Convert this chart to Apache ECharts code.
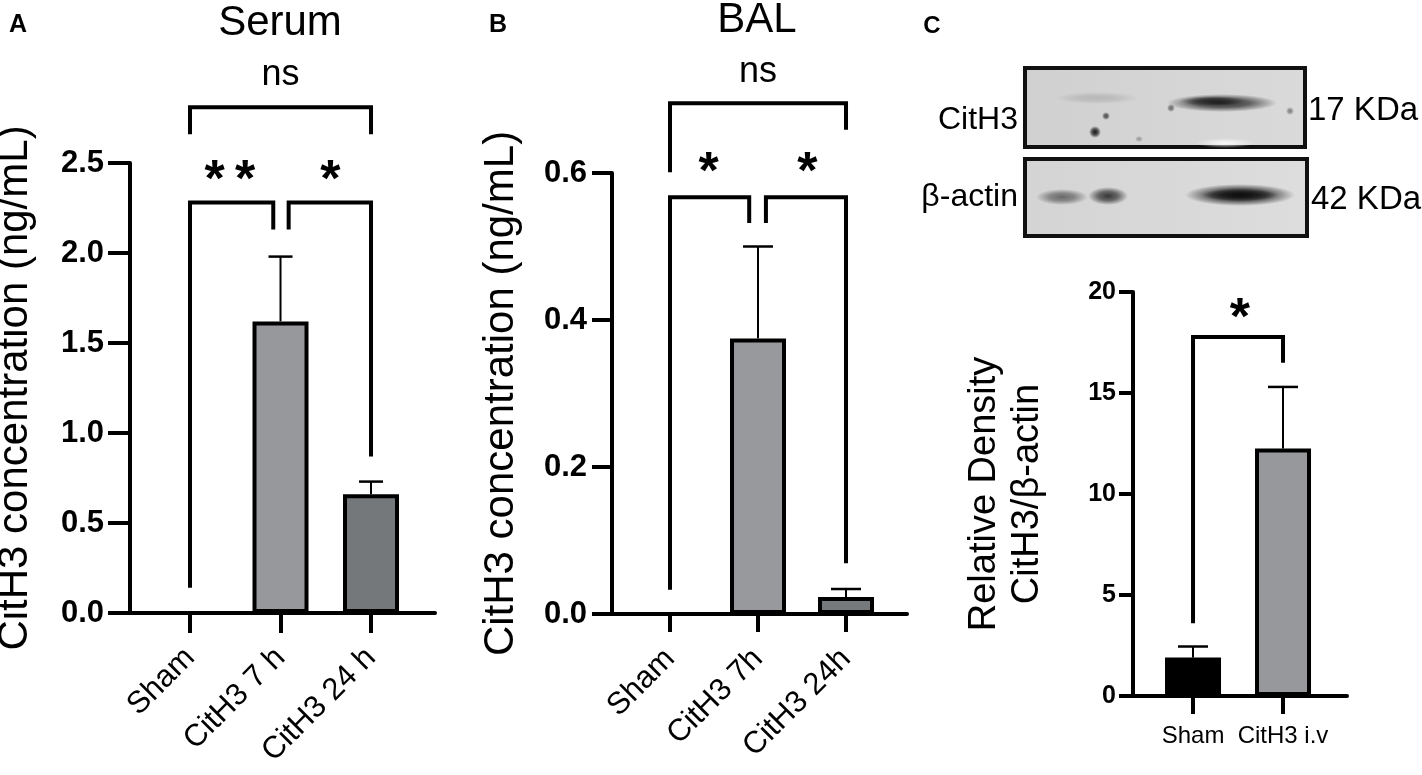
<!DOCTYPE html>
<html>
<head>
<meta charset="utf-8">
<title>CitH3 levels</title>
<script src="https://cdn.jsdelivr.net/npm/echarts@6/dist/echarts.min.js"></script>
<style>
  html, body { margin: 0; padding: 0; background: #fff; }
  #chart { width: 1422px; height: 775px; }
</style>
</head>
<body>
<div id="chart"></div>
<script>
// A - serum
const serumGroups = ['Sham', 'CitH3 7 h', 'CitH3 24 h'];
const serumMean = [0, 1.62, 0.66];
const serumSem = [0, 0.36, 0.07];
const serumTicks = { min: 0, max: 2.5, interval: 0.5 };
// [x from, x to, bar height, left leg end, right leg end]
const serumBrackets = [[0, 2, 2.81, 2.66, 2.66], [0, 0.92, 2.28, 0.14, 2.13], [1.09, 2, 2.28, 2.13, 0.87]];
const serumMarks = [['ns', 1, 2.99], ['*\u2009*', 0.44, 2.46], ['*', 1.55, 2.46]];

// B - BAL
const balGroups = ['Sham', 'CitH3 7h', 'CitH3 24h'];
const balMean = [0, 0.375, 0.023];
const balSem = [0, 0.125, 0.011];
const balTicks = { min: 0, max: 0.6, interval: 0.2 };
const balBrackets = [[0, 2, 0.695, 0.601, 0.659], [0, 0.9, 0.567, 0.033, 0.532], [1.09, 2, 0.567, 0.532, 0.069]];
const balMarks = [['ns', 1, 0.737], ['*', 0.44, 0.614], ['*', 1.56, 0.614]];

// C - western blot density
const wbGroups = ['Sham', 'CitH3 i.v'];
const wbMean = [1.9, 12.25];
const wbSem = [0.55, 3.05];
const wbTicks = { min: 0, max: 20, interval: 5 };
const wbBrackets = [[0, 1, 17.77, 3.6, 16.5]];
const wbMarks = [['*', 0.52, 19.2]];

const FONT = '"Liberation Sans", Arial, Helvetica, sans-serif';

const chart = echarts.init(document.getElementById('chart'));

function barSeries(i, mean, colors, width) {
  return {
    type: 'bar', xAxisIndex: i, yAxisIndex: i, barWidth: width, z: 3,
    data: mean.map((v, k) => ({ value: [k, v], itemStyle: { color: colors[k] } })),
    itemStyle: { borderColor: '#000', borderWidth: 4 }
  };
}

function errorSeries(i, mean, sem, capHalf) {
  return {
    type: 'custom', xAxisIndex: i, yAxisIndex: i, z: 2,
    data: mean.map((v, k) => [k, v, v + sem[k]]),
    renderItem: (params, api) => {
      if (api.value(2) === api.value(1)) return null;
      const p0 = api.coord([api.value(0), api.value(1)]);
      const p1 = api.coord([api.value(0), api.value(2)]);
      return {
        type: 'group', children: [
          { type: 'line', shape: { x1: p0[0], y1: p0[1], x2: p1[0], y2: p1[1] }, style: { stroke: '#000', lineWidth: 2 } },
          { type: 'line', shape: { x1: p1[0] - capHalf, y1: p1[1], x2: p1[0] + capHalf, y2: p1[1] }, style: { stroke: '#000', lineWidth: 2.5 } }
        ]
      };
    }
  };
}

function bracketSeries(i, brackets) {
  return {
    type: 'custom', xAxisIndex: i, yAxisIndex: i, z: 4,
    data: brackets,
    renderItem: (params, api) => {
      const a = api.coord([api.value(0), api.value(3)]);
      const b = api.coord([api.value(0), api.value(2)]);
      const c = api.coord([api.value(1), api.value(2)]);
      const d = api.coord([api.value(1), api.value(4)]);
      return {
        type: 'polyline', shape: { points: [a, b, c, d] },
        style: { stroke: '#000', lineWidth: 4, fill: null, lineJoin: 'miter' }
      };
    }
  };
}

function markSeries(i, marks) {
  return {
    type: 'custom', xAxisIndex: i, yAxisIndex: i, z: 5,
    data: marks.map(m => [m[1], m[2]]),
    renderItem: (params, api) => {
      const m = marks[params.dataIndex];
      const p = api.coord([api.value(0), api.value(1)]);
      const star = m[0] !== 'ns';
      return {
        type: 'text', x: p[0], y: p[1] + (star ? 11 : 0),
        style: {
          text: m[0], fill: '#000', align: 'center', verticalAlign: 'middle',
          fontFamily: FONT, fontSize: star ? 52 : 36, fontWeight: star ? 'bold' : 'normal'
        }
      };
    }
  };
}

function xAxisOf(i, groups, min, max, tickLen, label) {
  const idx = groups.map((g, k) => k);
  return {
    type: 'value', gridIndex: i, min: min, max: max,
    splitLine: { show: false },
    axisLine: { show: true, onZero: false, lineStyle: { color: '#000', width: 4 } },
    axisTick: { show: true, customValues: idx, length: tickLen, lineStyle: { color: '#000', width: 4 } },
    axisLabel: Object.assign({ customValues: idx, color: '#000', formatter: v => groups[Math.round(v)] }, label)
  };
}

function yAxisOf(i, ticks, tickLen, label, name) {
  return Object.assign({
    type: 'value', gridIndex: i, min: ticks.min, max: ticks.max, interval: ticks.interval,
    splitLine: { show: false },
    axisLine: { show: true, onZero: false, lineStyle: { color: '#000', width: 4 } },
    axisTick: { show: true, length: tickLen, lineStyle: { color: '#000', width: 4 } },
    axisLabel: Object.assign({ color: '#000', fontWeight: 'bold' }, label),
    nameLocation: 'middle', nameRotate: 90
  }, name);
}

const rotLabel = { rotate: 45, fontSize: 31, fontFamily: FONT, margin: 40 };

// soft blot bands: [cx, cy, rx, ry, darkness]
const blotSpots = [
  [1097, 98, 42, 6, 0.14], [1222, 103, 55, 9, 0.85], [1212, 101, 32, 5, 0.65],
  [1095, 132, 6, 6, 0.95], [1106, 116, 4, 4, 0.7], [1139, 139, 4, 3, 0.3], [1171, 108, 4, 4, 0.55], [1290, 111, 4, 4, 0.45],
  [1062, 197, 26, 8, 0.55], [1108, 196, 20, 9, 0.8], [1240, 195, 55, 11, 1], [1240, 195, 38, 6, 0.85]
];

const option = {
  backgroundColor: '#fff',
  animation: false,
  textStyle: { fontFamily: FONT },
  grid: [
    { left: 130, top: 163, width: 305, height: 450, outerBoundsMode: 'none' },
    { left: 612, top: 173, width: 295, height: 441, outerBoundsMode: 'none' },
    { left: 1133, top: 292, width: 214, height: 404, outerBoundsMode: 'none' }
  ],
  xAxis: [
    xAxisOf(0, serumGroups, -0.663, 2.707, 20, rotLabel),
    xAxisOf(1, balGroups, -0.659, 2.693, 18, rotLabel),
    xAxisOf(2, wbGroups, -0.667, 1.711, 18, { fontSize: 24, fontFamily: FONT, margin: 28 })
  ],
  yAxis: [
    yAxisOf(0, serumTicks, 22, { fontSize: 31, fontFamily: FONT, margin: 26, formatter: v => v.toFixed(1) },
      { name: 'CitH3 concentration (ng/mL)', nameGap: 94, nameTextStyle: { fontSize: 42, color: '#000', fontFamily: FONT } }),
    yAxisOf(1, balTicks, 20, { fontSize: 31, fontFamily: FONT, margin: 25, formatter: v => v.toFixed(1) },
      { name: 'CitH3 concentration (ng/mL)', nameGap: 90, nameTextStyle: { fontSize: 42, color: '#000', fontFamily: FONT } }),
    yAxisOf(2, wbTicks, 14, { fontSize: 25, fontFamily: FONT, margin: 17 },
      { name: 'Relative Density\nCitH3/β-actin', nameGap: 84, nameTextStyle: { fontSize: 38, lineHeight: 43, color: '#000', fontFamily: FONT } })
  ],
  series: [
    barSeries(0, serumMean, ['#96989b', '#96989b', '#75787a'], 56),
    errorSeries(0, serumMean, serumSem, 12),
    bracketSeries(0, serumBrackets),
    markSeries(0, serumMarks),
    barSeries(1, balMean, ['#97999c', '#97999c', '#76797b'], 56),
    errorSeries(1, balMean, balSem, 15),
    bracketSeries(1, balBrackets),
    markSeries(1, balMarks),
    barSeries(2, wbMean, ['#000', '#96989b'], 56),
    errorSeries(2, wbMean, wbSem, 15),
    bracketSeries(2, wbBrackets),
    markSeries(2, wbMarks)
  ],
  graphic: [
    // panel letters and titles
    { type: 'text', x: 18, y: 25, style: { text: 'A', fontSize: 25, fontWeight: 'bold', fontFamily: FONT, fill: '#000', align: 'center', verticalAlign: 'middle' } },
    { type: 'text', x: 498, y: 25, style: { text: 'B', fontSize: 25, fontWeight: 'bold', fontFamily: FONT, fill: '#000', align: 'center', verticalAlign: 'middle' } },
    { type: 'text', x: 932, y: 26, style: { text: 'C', fontSize: 24, fontWeight: 'bold', fontFamily: FONT, fill: '#000', align: 'center', verticalAlign: 'middle' } },
    { type: 'text', x: 280, y: 23, style: { text: 'Serum', fontSize: 42, fontFamily: FONT, fill: '#000', align: 'center', verticalAlign: 'middle' } },
    { type: 'text', x: 757, y: 20, style: { text: 'BAL', fontSize: 42, fontFamily: FONT, fill: '#000', align: 'center', verticalAlign: 'middle' } },
    // blot strips
    { type: 'rect', shape: { x: 1025, y: 68, width: 280, height: 79 }, style: { fill: { type: 'linear', x: 0, y: 0, x2: 1, y2: 0, colorStops: [{ offset: 0, color: '#d0d0d0' }, { offset: 1, color: '#dadada' }] }, stroke: '#111', lineWidth: 4 }, z: 10 },
    { type: 'rect', shape: { x: 1025, y: 159, width: 282, height: 77 }, style: { fill: { type: 'linear', x: 0, y: 0, x2: 1, y2: 0, colorStops: [{ offset: 0, color: '#d4d4d4' }, { offset: 1, color: '#dddddd' }] }, stroke: '#111', lineWidth: 4 }, z: 10 },
    ...blotSpots.map(b => ({
      type: 'circle', z: 11, x: b[0], y: b[1], scaleX: b[2] / b[3],
      shape: { cx: 0, cy: 0, r: b[3] },
      style: { fill: { type: 'radial', x: 0.5, y: 0.5, r: 0.5, colorStops: [{ offset: 0, color: 'rgba(15,15,15,' + b[4] + ')' }, { offset: 0.5, color: 'rgba(15,15,15,' + (b[4] * 0.7) + ')' }, { offset: 1, color: 'rgba(15,15,15,0)' }] } }
    })),
    { type: 'circle', z: 11, x: 1225, y: 143, scaleX: 6, shape: { cx: 0, cy: 0, r: 5 }, style: { fill: { type: 'radial', x: 0.5, y: 0.5, r: 0.5, colorStops: [{ offset: 0, color: 'rgba(255,255,255,0.9)' }, { offset: 1, color: 'rgba(255,255,255,0)' }] } } },
    { type: 'text', x: 1018, y: 120, style: { text: 'CitH3', fontSize: 32, fontFamily: FONT, fill: '#000', align: 'right', verticalAlign: 'middle' } },
    { type: 'text', x: 1018, y: 197, style: { text: 'β-actin', fontSize: 32, fontFamily: FONT, fill: '#000', align: 'right', verticalAlign: 'middle' } },
    { type: 'text', x: 1308, y: 111, style: { text: '17 KDa', fontSize: 33, fontFamily: FONT, fill: '#000', align: 'left', verticalAlign: 'middle' } },
    { type: 'text', x: 1311, y: 200, style: { text: '42 KDa', fontSize: 33, fontFamily: FONT, fill: '#000', align: 'left', verticalAlign: 'middle' } }
  ]
};

chart.setOption(option);
</script>
</body>
</html>
